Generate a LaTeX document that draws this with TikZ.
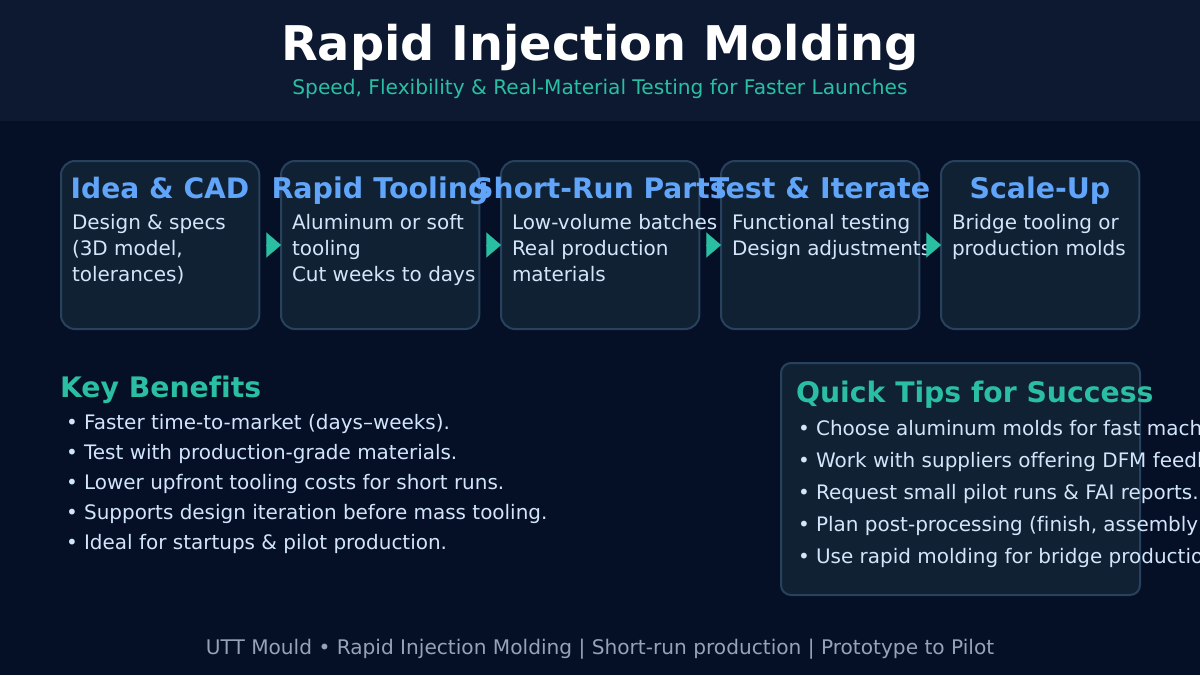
\documentclass[tikz,border=0pt]{standalone}
\usepackage{fontspec}
\setmainfont[Ligatures=NoCommon]{DejaVu Sans}
\usetikzlibrary{arrows.meta}
\definecolor{bgc}{HTML}{050F26}
\definecolor{headc}{HTML}{0C1930}
\definecolor{boxc}{HTML}{102133}
\definecolor{edgec}{HTML}{28425E}
\definecolor{bluec}{HTML}{60A5FA}
\definecolor{tealc}{HTML}{2ABFA3}
\definecolor{textc}{HTML}{D3E5FB}
\definecolor{footc}{HTML}{94A3B8}
\tikzset{
  stepbox/.style={draw=edgec,fill=boxc,line width=1.5pt,rounded corners=10.5pt,minimum width=148.7pt,minimum height=126pt,inner sep=0pt,outer sep=0pt,anchor=north west},
  tipbox/.style={draw=edgec,fill=boxc,line width=1.5pt,rounded corners=7.5pt,minimum width=269.25pt,minimum height=174pt,inner sep=0pt,outer sep=0pt,anchor=north west},
  txt/.style={inner sep=0pt,outer sep=0pt,anchor=base west},
  steptitle/.style={inner sep=0pt,outer sep=0pt,anchor=base,text=bluec,font=\fontsize{#1}{25pt}\selectfont\bfseries},
  steptitle/.default=21.4pt,
  body/.style={txt,text=textc,font=\fontsize{14.97pt}{18pt}\selectfont},
  heading/.style={txt,text=tealc,font=\fontsize{21.2pt}{25pt}\selectfont\bfseries},
  flow/.style={draw=tealc,line width=0.1pt,shorten <=5pt,-{Triangle[length=11pt,width=18.75pt,fill=tealc]}},
}
\begin{document}
\begin{tikzpicture}[x=0.75pt,y=-0.75pt]
\useasboundingbox (0,0) rectangle (1200,675);
\fill[bgc] (0,0) rectangle (1200,675);
\fill[headc] (0,0) rectangle (1200,121);
\node[inner sep=0pt,anchor=base,text=white,font=\fontsize{35.85pt}{42pt}\selectfont\bfseries] (title) at (600,60) {Rapid Injection Molding};
\node[inner sep=0pt,anchor=base,text=tealc,font=\fontsize{15.13pt}{18pt}\selectfont] (subtitle) at (600,94) {Speed, Flexibility \& Real-Material Testing for Faster Launches};
% boxes
\node[stepbox] (b1) at (61,161) {};
\node[stepbox] (b2) at (281,161) {};
\node[stepbox] (b3) at (501,161) {};
\node[stepbox] (b4) at (721,161) {};
\node[stepbox] (b5) at (941,161) {};
\node[tipbox] (tips) at (781,363) {};
% step titles
\node[steptitle=21.1pt] (t1) at (160,198) {Idea \& CAD};
\node[steptitle] (t2) at (380,198) {Rapid Tooling};
\node[steptitle=21.1pt] (t3) at (600,198) {Short-Run Parts};
\node[steptitle] (t4) at (820,198) {Test \& Iterate};
\node[steptitle=21.3pt] (t5) at (1040,198) {Scale-Up};
% step bodies
\node[body] (b1a) at (72,229) {Design \& specs};
\node[body] (b1b) at (72,255) {(3D model,};
\node[body] (b1c) at (72,281) {tolerances)};
\node[body] (b2a) at (292,229) {Aluminum or soft};
\node[body] (b2b) at (292,255) {tooling};
\node[body] (b2c) at (292,281) {Cut weeks to days};
\node[body] (b3a) at (512,229) {Low-volume batches};
\node[body] (b3b) at (512,255) {Real production};
\node[body] (b3c) at (512,281) {materials};
\node[body] (b4a) at (732,229) {Functional testing};
\node[body] (b4b) at (732,255) {Design adjustments};
\node[body] (b5a) at (952,229) {Bridge tooling or};
\node[body] (b5b) at (952,255) {production molds};
% connectors
\draw[flow] (b1) -- (b2);
\draw[flow] (b2) -- (b3);
\draw[flow] (b3) -- (b4);
\draw[flow] (b4) -- (b5);
% benefits
\node[heading] (kb) at (60,397) {Key Benefits};
\node[body] (k1) at (66,429) {• Faster time-to-market (days–weeks).};
\node[body] (k2) at (66,459) {• Test with production-grade materials.};
\node[body] (k3) at (66,489) {• Lower upfront tooling costs for short runs.};
\node[body] (k4) at (66,519) {• Supports design iteration before mass tooling.};
\node[body] (k5) at (66,549) {• Ideal for startups \& pilot production.};
% tips
\node[heading] (qt) at (796,402) {Quick Tips for Success};
\node[body] (q1) at (798,435) {• Choose aluminum molds for fast machining.};
\node[body] (q2) at (798,467) {• Work with suppliers offering DFM feedback.};
\node[body] (q3) at (798,499) {• Request small pilot runs \& FAI reports.};
\node[body] (q4) at (798,531) {• Plan post-processing (finish, assembly).};
\node[body] (q5) at (798,563) {• Use rapid molding for bridge production.};
% footer
\node[inner sep=0pt,anchor=base,text=footc,font=\fontsize{15.1pt}{18pt}\selectfont] (foot) at (600,654) {UTT Mould • Rapid Injection Molding | Short-run production | Prototype to Pilot};
\end{tikzpicture}
\end{document}
